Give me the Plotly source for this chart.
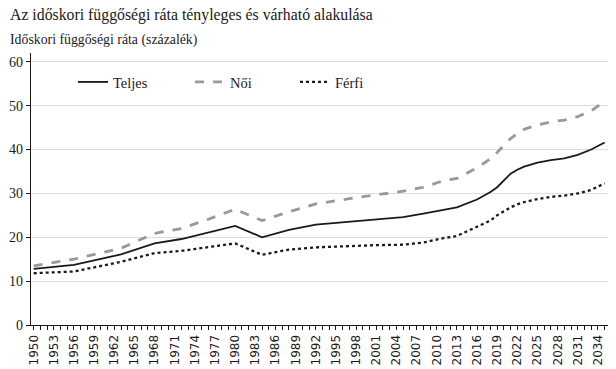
import plotly.graph_objects as go

years = [1950, 1956, 1963, 1968, 1972, 1976, 1980, 1984, 1988, 1992, 1997, 2001, 2005,
         2008, 2011, 2013, 2016, 2018, 2019, 2020, 2021, 2022, 2023, 2025, 2027, 2029, 2031, 2033, 2035]
teljes = [12.8, 13.7, 16.1, 18.6, 19.6, 21.1, 22.6, 20.0, 21.7, 22.9, 23.6, 24.0, 24.6,
          25.4, 26.3, 26.8, 28.6, 30.3, 31.4, 33.0, 34.5, 35.4, 36.1, 37.0, 37.6, 38.0, 38.8, 40.0, 41.6]
noi = [13.5, 15.0, 17.5, 20.9, 22.0, 24.1, 26.4, 23.8, 25.8, 27.6, 28.8, 29.6, 30.5,
       31.4, 32.9, 33.4, 35.8, 37.9, 39.3, 41.0, 42.5, 43.6, 44.6, 45.6, 46.3, 46.7, 47.5, 48.8, 51.0]
ferfi = [11.8, 12.2, 14.4, 16.4, 16.9, 17.7, 18.6, 16.0, 17.2, 17.7, 18.0, 18.2, 18.3,
         18.8, 19.8, 20.3, 22.4, 23.8, 25.0, 26.0, 26.8, 27.5, 28.0, 28.7, 29.2, 29.5, 30.0, 30.8, 32.3]

tick_years = list(range(1950, 2035, 3))
tick_labels = [str(y) for y in tick_years]
y_ticks = [0, 10, 20, 30, 40, 50, 60]

title = "Az időskori függőségi ráta tényleges és várható alakulása"
ytitle = "Időskori függőségi ráta (százalék)"

serif = "Liberation Serif"

ML, MR, MT, MB = 31, 8, 53, 44
W, H = 616, 369
pw = W - ML - MR
ph = H - MT - MB


def px2paper(px, py):
    return (px - ML) / pw, 1 + (MT - py) / ph


fig = go.Figure()
fig.add_trace(go.Scatter(x=years, y=teljes, name="Teljes", mode="lines", legend="legend",
                         line=dict(color="#1a1a1a", width=1.8)))
fig.add_trace(go.Scatter(x=years, y=noi, name="Női", mode="lines", legend="legend2",
                         line=dict(color="#999999", width=2.8, dash="dash")))
fig.add_trace(go.Scatter(x=years, y=ferfi, name="Férfi", mode="lines", legend="legend3",
                         line=dict(color="#1a1a1a", width=2.3, dash="dot")))

tx, ty = px2paper(8, 4)
yx, yy = px2paper(8, 30)


def leg(px):
    x, y = px2paper(px, 82)
    return dict(orientation="h", x=x, y=y, xanchor="left", yanchor="middle",
                font=dict(family=serif, size=14.5, color="#1a1a1a"),
                bgcolor="rgba(0,0,0,0)", borderwidth=0)


fig.update_layout(
    width=W, height=H,
    margin=dict(l=ML, r=MR, t=MT, b=MB, autoexpand=False),
    paper_bgcolor="white", plot_bgcolor="white",
    font=dict(family=serif, size=13, color="#1a1a1a"),
    showlegend=True,
    legend=leg(73), legend2=leg(190), legend3=leg(295),
    annotations=[
        dict(text=title, x=tx, y=ty, xref="paper", yref="paper", showarrow=False,
             xanchor="left", yanchor="top", font=dict(family=serif, size=15.8, color="#1a1a1a")),
        dict(text=ytitle, x=yx, y=yy, xref="paper", yref="paper", showarrow=False,
             xanchor="left", yanchor="top", font=dict(family=serif, size=13.8, color="#1a1a1a")),
    ],
)

fig.update_xaxes(
    range=[1949.6, 2035.5], automargin=False,
    tickmode="array", tickvals=tick_years, ticktext=tick_labels,
    tickangle=-90, ticks="outside", ticklen=4, tickcolor="#1a1a1a",
    tickfont=dict(family="DejaVu Sans", size=12, color="#1a1a1a"),
    minor=dict(dtick=1, tick0=1950, ticks="outside", ticklen=4, tickcolor="#1a1a1a", showgrid=False),
    showline=True, linecolor="#1a1a1a", linewidth=1.2,
    showgrid=False, zeroline=False,
)
fig.update_yaxes(
    range=[0, 62], automargin=False,
    tickmode="array", tickvals=y_ticks,
    ticks="outside", ticklen=4, tickcolor="#1a1a1a",
    tickfont=dict(family=serif, size=14, color="#1a1a1a"),
    showline=True, linecolor="#1a1a1a", linewidth=1.2,
    showgrid=True, gridcolor="#dddddd", gridwidth=1.2,
    zeroline=False,
)

fig.write_html("out.html", config={"displayModeBar": False},
               post_script="document.body.style.margin='0';document.body.style.padding='0';")
